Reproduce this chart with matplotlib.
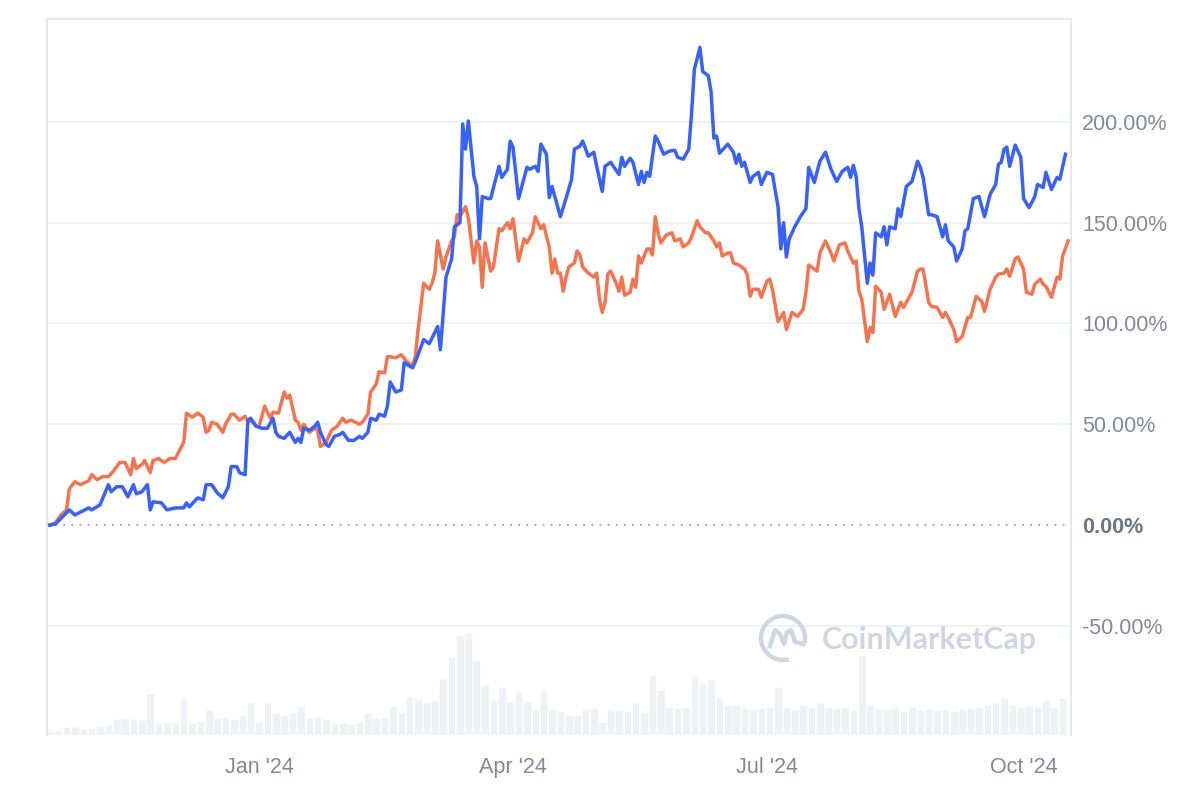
# Price performance comparison chart (percent change since start, with volume bars)

import numpy as np
import matplotlib.pyplot as plt
from matplotlib.patches import Arc
from matplotlib.transforms import IdentityTransform

plt.rcParams['font.family'] = ['Liberation Sans', 'DejaVu Sans']

start = np.datetime64('2023-10-18')

# ---- blue series: days since start, % change ----
blue_days = [0, 2, 7, 9, 14, 15, 18, 21, 22, 24, 26, 28, 30, 31, 33, 35, 36, 37, 40, 42,
             45, 48, 49, 50, 53, 55, 56, 58, 60, 62, 64, 65, 67, 68, 70, 71, 72, 74, 76, 78,
             80, 81, 82, 84, 86, 88, 89, 90, 91, 93, 95, 96, 97, 99, 100, 102, 104, 105, 107, 109,
             111, 112, 114, 115, 117, 118, 120, 121, 122, 124, 126, 127, 130, 131, 134, 136, 139, 140, 142, 144,
             145, 147, 148, 149, 150, 152, 153, 154, 155, 157, 158, 161, 162, 164, 165, 166, 168, 171, 172, 174,
             175, 176, 178, 179, 180, 182, 183, 185, 187, 188, 190, 191, 193, 195, 196, 198, 199, 201, 204, 205,
             206, 208, 209, 211, 212, 213, 214, 215, 217, 218, 220, 222, 224, 225, 227, 229, 230, 231, 233, 234,
             236, 237, 238, 239, 240, 243, 245, 246, 247, 248, 249, 251, 252, 254, 255, 257, 259, 261, 262, 263,
             264, 265, 267, 269, 271, 272, 274, 276, 278, 280, 282, 284, 286, 287, 288, 289, 290, 291, 293, 294,
             295, 296, 298, 299, 300, 301, 303, 304, 305, 307, 309, 311, 312, 313, 315, 316, 318, 320, 321, 322,
             324, 325, 327, 328, 329, 331, 333, 335, 337, 339, 340, 341, 342, 343, 344, 346, 348, 349, 351, 353,
             354, 356, 357, 359, 361, 362, 364]
blue_pct = [0, 0.5, 7.5, 5, 8.5, 7.5, 10, 20, 16.5, 19, 19, 14, 20, 15.5, 16.5, 20, 7.5, 11.5, 11, 7.5,
            8.5, 8.5, 11, 9, 13.5, 12.5, 20, 20, 16, 13.5, 19, 29, 29, 26, 25, 52, 53, 49, 48, 48,
            53, 46, 44, 43, 46, 41, 43, 41, 48, 47, 49, 51, 46, 40, 39, 44, 45, 46, 42, 42,
            44, 43, 46, 53, 52, 55, 54, 59, 71, 66, 67, 80.5, 78, 81, 92, 90, 98.5, 87, 123, 132,
            148, 150, 199, 186.5, 200.5, 173, 168, 142, 163, 162, 162, 178, 172.5, 176.5, 190.5, 187.5, 162, 177.5, 176.5, 178,
            175.5, 189, 184, 162.5, 168, 158, 153, 162, 171.5, 186.5, 188, 190.5, 183, 185, 178, 165.5, 178, 180, 174, 182.5,
            178, 182, 180, 169, 175.5, 170, 175, 173, 193, 190.5, 184, 185.5, 186, 182.5, 181.5, 186.5, 204, 226, 237, 225,
            223, 215, 192, 193, 184.5, 189, 185, 179.5, 184, 178, 180, 170, 173, 175, 169, 175, 174, 158, 137, 150,
            133, 142, 148, 153, 157, 177.5, 170, 180.5, 185, 176.5, 170.5, 175.5, 177.5, 172.5, 178.5, 173, 157, 148, 120, 130,
            124, 145, 143, 148, 139, 148, 147, 157, 153, 168, 170.5, 180.5, 177.5, 172.5, 154, 154, 153, 143, 149, 141,
            138, 131, 137, 146, 147, 162, 163, 153, 164, 169, 179, 180, 186.5, 187.5, 178, 188.5, 182.5, 162, 157.5, 163,
            169, 167.5, 175, 166.5, 172.5, 171.5, 184]

# ---- orange series: days since start, % change ----
orange_days = [0, 2, 4, 6, 7, 9, 11, 14, 15, 17, 19, 21, 23, 25, 27, 29, 30, 31, 33, 34,
               36, 37, 39, 41, 43, 45, 48, 49, 51, 53, 55, 56, 57, 58, 60, 62, 63, 65, 66, 68,
               70, 71, 72, 74, 75, 77, 79, 80, 82, 84, 85, 86, 88, 89, 90, 91, 93, 95, 96, 97,
               99, 101, 103, 105, 106, 108, 111, 112, 114, 115, 117, 118, 120, 121, 122, 124, 126, 128, 130, 131,
               132, 134, 136, 137, 138, 139, 141, 142, 144, 145, 146, 147, 149, 150, 152, 153, 154, 155, 156, 158,
               159, 161, 162, 164, 165, 166, 168, 170, 171, 173, 174, 176, 177, 179, 180, 181, 182, 183, 184, 185,
               186, 188, 189, 190, 191, 193, 195, 196, 197, 198, 199, 200, 201, 203, 204, 205, 206, 208, 209, 210,
               211, 212, 214, 215, 216, 217, 218, 219, 221, 223, 224, 226, 227, 229, 230, 232, 233, 235, 236, 238,
               239, 240, 241, 243, 244, 245, 247, 249, 250, 251, 252, 254, 255, 257, 258, 259, 261, 263, 264, 266,
               268, 270, 271, 272, 275, 276, 278, 280, 281, 283, 285, 286, 288, 289, 290, 291, 293, 294, 295, 296,
               298, 299, 301, 303, 305, 306, 307, 309, 311, 312, 313, 315, 316, 318, 320, 321, 322, 324, 325, 327,
               329, 330, 332, 334, 335, 337, 339, 340, 342, 343, 344, 346, 347, 349, 350, 352, 353, 355, 356, 357,
               359, 361, 362, 363, 365]
orange_pct = [0, 1, 5, 7.5, 18, 21.5, 20, 22, 25, 22.5, 24, 24, 27, 31, 31, 25, 33, 28, 30, 32,
              26, 32, 33, 31, 33, 33, 41, 55.5, 53.5, 55.5, 53.5, 46, 47, 51, 50, 46, 50, 55, 55, 52,
              54, 51, 52, 49, 49, 59, 53, 56, 55.5, 66, 63, 64.5, 52, 51, 47, 50, 46, 48, 47, 39,
              41, 47, 49, 53, 51, 52, 50, 51, 55, 66, 70, 76, 75.5, 83.5, 83.5, 83, 84.5, 81, 79, 83.5,
              97, 120, 117, 120, 125, 141, 127, 133, 141, 143, 154, 153, 158, 152.5, 130, 141, 138, 118, 140, 126,
              128, 147, 146, 150, 147, 152, 131, 142, 140, 145, 153, 147, 149, 138, 125, 132, 125, 125, 116, 123,
              128, 130, 136, 134, 128, 125, 123, 125, 112, 105.5, 110.5, 124.5, 126, 120, 116, 123, 114, 115.5, 122, 118,
              133.5, 130, 137, 137, 134, 153, 145, 140, 144, 145, 141, 142, 138, 140, 143, 151, 148, 145, 145, 141,
              138, 140, 133.5, 135, 135, 130, 129, 127, 124, 113.5, 117, 117, 113, 121, 122, 117, 101, 105.5, 97, 105.5,
              103.5, 107, 115.5, 129, 126, 135, 141, 135, 131, 139, 140, 136, 130, 131, 116, 112, 91, 98, 95.5, 118.5,
              115.5, 107, 114.5, 103.5, 110.5, 108, 110.5, 115.5, 126, 127, 127, 110.5, 108.5, 108, 103, 105.5, 103, 97, 91, 93.5,
              103, 103, 113.5, 111, 106, 117, 123, 124.5, 125, 127, 123.5, 132, 133, 127, 115.5, 114.5, 119.5, 122, 119.5, 118.5,
              113, 123, 122, 133.5, 141]

# ---- volume (relative units), one value every 3 days ----
vol_step = 3
volume = [4, 5, 8, 9, 6, 7, 9, 10, 16, 17, 16, 15, 42, 12, 13, 12, 37, 12, 14, 25,
          17, 18, 16, 20, 33, 13, 33, 22, 20, 22, 29, 17, 18, 16, 12, 12, 11, 13, 22, 17,
          18, 29, 22, 38, 37, 33, 35, 57, 78, 100, 102, 75, 50, 35, 48, 33, 43, 33, 25, 44,
          25, 24, 20, 20, 26, 27, 13, 25, 25, 24, 33, 23, 60, 45, 28, 27, 28, 60, 52, 55,
          37, 30, 30, 27, 26, 27, 28, 48, 28, 26, 30, 28, 33, 28, 27, 28, 25, 80, 30, 27,
          26, 27, 24, 28, 25, 26, 25, 26, 24, 26, 27, 28, 30, 33, 37, 30, 28, 30, 28, 35,
          28, 37]

yticks = [-50, 0, 50, 100, 150, 200]
xtick_dates = ['2024-01-01', '2024-04-01', '2024-07-01', '2024-10-01']
xtick_labels = ["Jan '24", "Apr '24", "Jul '24", "Oct '24"]

blue_dates = start + np.array(blue_days)
orange_dates = start + np.array(orange_days)
vol_dates = start + np.arange(len(volume)) * vol_step

label_color = '#808a9d'

fig = plt.figure(figsize=(12, 8), dpi=100)
ax = fig.add_axes([47 / 1200, 65 / 800, 1024 / 1200, 716 / 800])

# volume bars behind the lines
ax2 = ax.twinx()
ax2.bar(vol_dates, volume, width=2.7, color='#eff1f5', edgecolor='white', linewidth=0.4)
ax2.set_ylim(0, max(volume) * 7.0)
ax2.set_axis_off()
ax.set_zorder(ax2.get_zorder() + 1)
ax.patch.set_visible(False)

for v in yticks:
    if v != 0:
        ax.axhline(v, color='#eff2f5', lw=1.5, zorder=0)
ax.axhline(0, color='#9aa1b0', lw=1.3, ls=(0, (1, 3.5)), zorder=1)

ax.plot(orange_dates, orange_pct, color='#f4744f', lw=2.5, solid_joinstyle='round', zorder=3)
ax.plot(blue_dates, blue_pct, color='#3861fb', lw=2.5, solid_joinstyle='round', zorder=4)

ax.set_xlim(start - np.timedelta64(1, 'D'), start + np.timedelta64(366, 'D'))
ax.set_ylim(-104.2, 251.1)

ax.yaxis.tick_right()
ax.set_yticks(yticks)
ax.set_yticklabels([f'{v:.2f}%' for v in yticks])
ax.tick_params(axis='y', length=0, pad=8, labelsize=15.5, labelcolor=label_color)
zero_lbl = ax.get_yticklabels()[yticks.index(0)]
zero_lbl.set_fontweight('bold')
zero_lbl.set_color('#6b7589')

ax.set_xticks(np.array(xtick_dates, dtype='datetime64[D]'))
ax.set_xticklabels(xtick_labels)
ax.tick_params(axis='x', length=0, pad=16, labelsize=15.5, labelcolor=label_color)

for side in ['top', 'left', 'right']:
    ax.spines[side].set_color('#e6e8ec')
    ax.spines[side].set_linewidth(1.5)
ax.spines['bottom'].set_visible(False)

# watermark
wm = '#cfd6e3'
fig.patches.append(Arc((783, 162), 44, 44, theta1=-15, theta2=285, lw=3.2,
                       color=wm, transform=IdentityTransform()))
mx = np.array([-13, -8, -3, 1, 4, 8, 12, 20])
my = np.array([-8, 8, 4, -6, 6, 8, -4, -6])
fig.lines.append(plt.Line2D(783 + mx, 162 + my, lw=3.2, color=wm,
                            transform=IdentityTransform(), solid_joinstyle='round'))
fig.text(822 / 1200, 160 / 800, 'CoinMarketCap', color=wm, fontsize=22,
         fontweight='bold', family='Lato', va='center', ha='left')

fig.savefig('out.png', dpi=100)
